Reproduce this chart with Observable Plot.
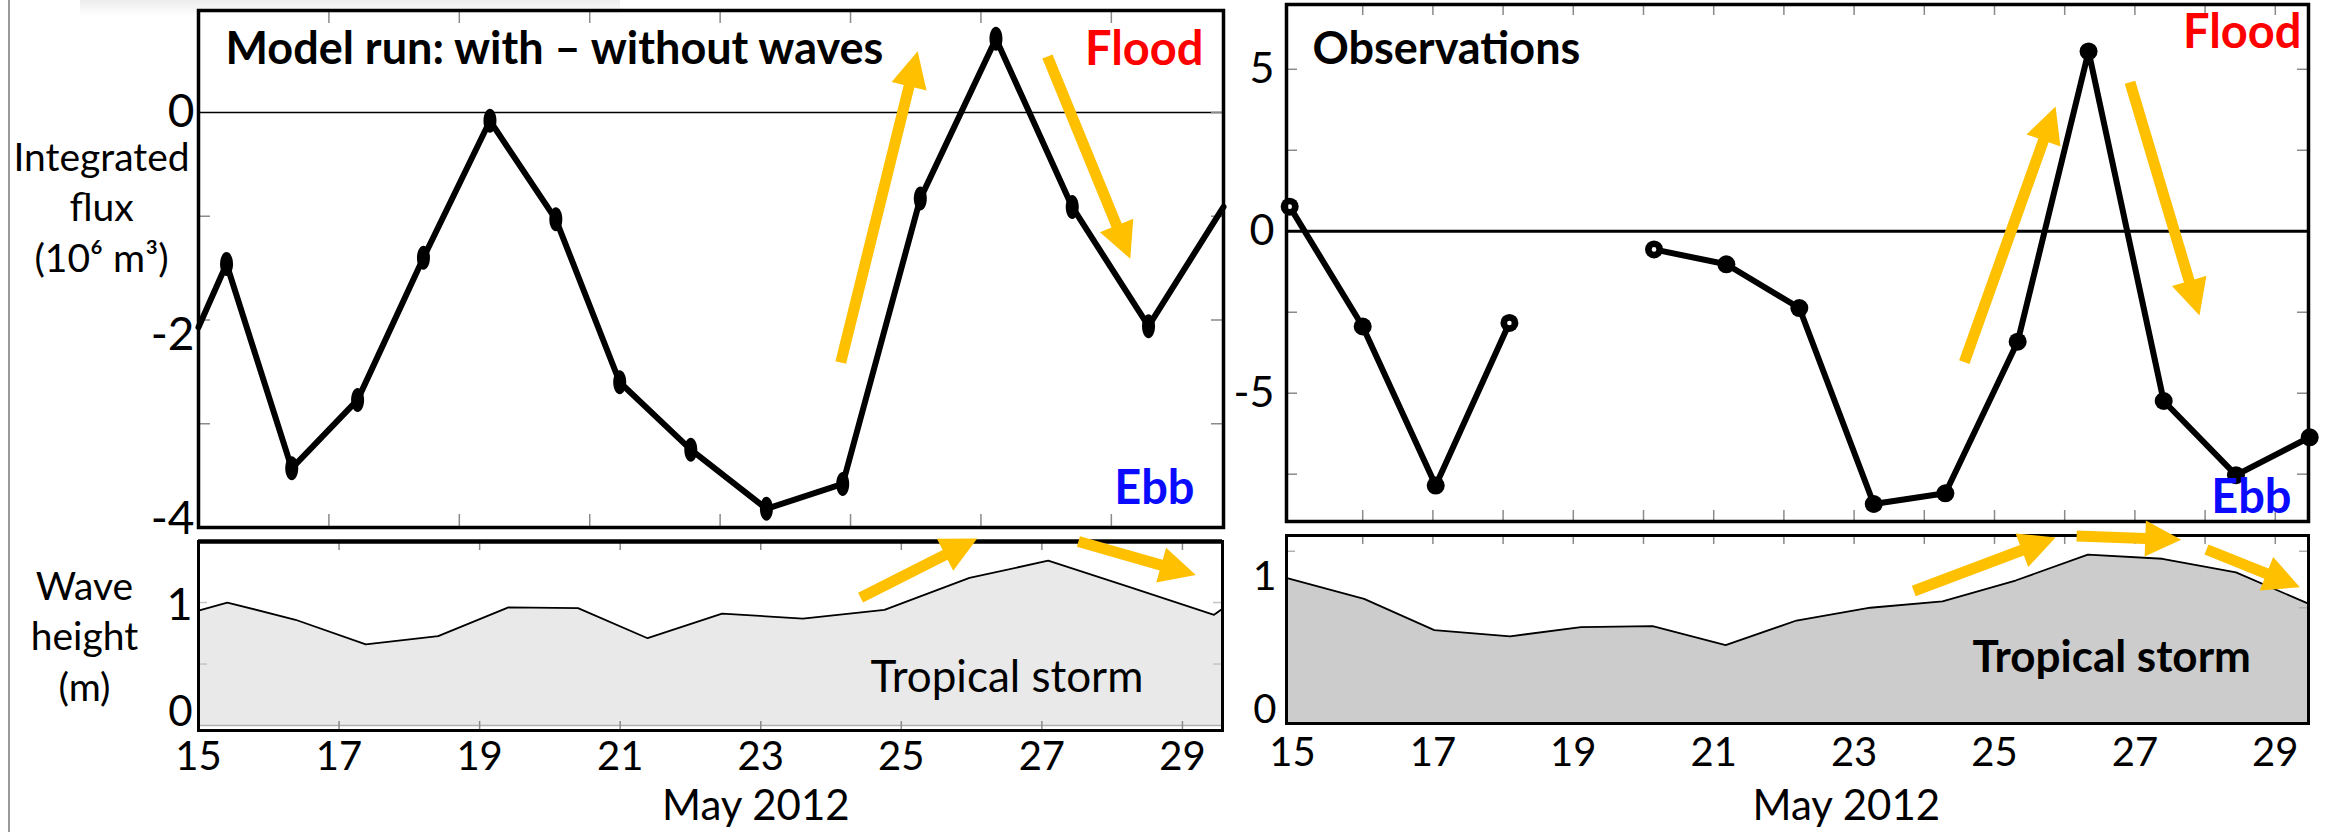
<!DOCTYPE html>
<html><head><meta charset="utf-8">
<script src="https://cdn.jsdelivr.net/npm/d3@7"></script>
<script src="https://cdn.jsdelivr.net/npm/@observablehq/plot@0.6"></script>
<style>
body{margin:0;background:#fff;}
#fig{position:relative;width:2328px;height:832px;overflow:hidden;font-family:Lato,sans-serif;background:#fff;}
#fig > svg{position:absolute;overflow:visible;}
#edge{position:absolute;left:8px;top:0;width:0;height:832px;border-left:2px solid #9a9a9a;}
#shade{position:absolute;left:80px;top:0;width:540px;height:16px;background:linear-gradient(#ececec,#fff);}
</style></head><body><div id="fig"><div id="shade"></div><div id="edge"></div></div>
<script>
// ---------- DATA ----------
// Model run (with - without waves): integrated flux, 10^6 m^3
const modelDays = [15.0, 15.43, 16.43, 17.44, 18.45, 19.47, 20.48, 21.46, 22.55, 23.71, 24.88, 26.07, 27.23, 28.40, 29.57, 30.72];
const modelFlux = [-2.07, -1.46, -3.43, -2.77, -1.40, -0.08, -1.03, -2.60, -3.25, -3.82, -3.58, -0.83, 0.71, -0.91, -2.06, -0.91];
// Model wave height (m)
const modelWaveDays = [15.0, 15.41, 16.38, 17.38, 18.41, 19.41, 20.40, 21.39, 22.45, 23.6, 24.76, 25.97, 27.09, 28.25, 29.45, 29.57];
const modelWave = [0.935, 1.0, 0.86, 0.66, 0.727, 0.96, 0.955, 0.71, 0.91, 0.87, 0.94, 1.20, 1.34, 1.125, 0.90, 0.95];
// Observations: integrated flux (null = no data)
const obsDays = [14.96, 16.00, 17.04, 18.09, 19.1, 20.15, 21.18, 22.22, 23.28, 24.30, 25.33, 26.34, 27.41, 28.44, 29.49];
const obsFlux = [0.76, -2.94, -7.85, -2.83, null, -0.56, -1.02, -2.37, -8.42, -8.09, -3.41, 5.55, -5.24, -7.53, -6.36];
const obsOpen = [true, false, false, true, false, true, false, false, false, false, false, false, false, false, false];
// Observed wave height (m)
const obsWaveDays = [14.91, 16.02, 17.02, 18.10, 19.11, 20.13, 21.17, 22.18, 23.23, 24.26, 25.30, 26.33, 27.39, 28.44, 29.47];
const obsWave = [1.02, 0.865, 0.635, 0.59, 0.657, 0.665, 0.525, 0.706, 0.80, 0.846, 1.0, 1.19, 1.16, 1.06, 0.83];
// tick labels
const dayLabels = [15, 17, 19, 21, 23, 25, 27, 29];
const modelFluxLabels = [0, -2, -4];
const obsFluxLabels = [5, 0, -5];
const waveLabels = [0, 1];
const modelTopTicks = [17, 19, 21, 23, 25, 27, 29];
const dailyTicks = [16, 17, 18, 19, 20, 21, 22, 23, 24, 25, 26, 27, 28, 29];
// annotation arrows [x1, y1, x2(tip), y2(tip)] in data units
const arrowsModelFlux = [[24.85, -2.41, 26.03, 0.59], [28.02, 0.54, 29.29, -1.41]];
const arrowsModelWave = [[24.42, 1.04, 26.08, 1.52], [27.52, 1.496, 29.19, 1.224]];
const arrowsObsFlux = [[24.57, -4.04, 25.87, 3.85], [26.93, 4.6, 27.92, -2.6]];
const arrowsObsWave = [[23.85, 0.923, 25.87, 1.316], [26.17, 1.327, 27.66, 1.30], [28.02, 1.228, 29.35, 0.951]];

// ---------- HELPERS ----------
const FONT = "Lato";
const YELLOW = "#FFC000";
const TICK = "#8a8a8a";
const ellipse = {draw(ctx) {
  const rx = 6.5, ry = 12, k = 0.5523;
  ctx.moveTo(0, -ry);
  ctx.bezierCurveTo(k*rx, -ry, rx, -k*ry, rx, 0);
  ctx.bezierCurveTo(rx, k*ry, k*rx, ry, 0, ry);
  ctx.bezierCurveTo(-k*rx, ry, -rx, k*ry, -rx, 0);
  ctx.bezierCurveTo(-rx, -k*ry, -k*rx, -ry, 0, -ry);
  ctx.closePath();
}};
function arrowPolys(arrows, xdom, xr, ydom, yr) {
  const xs = Plot.scale({x: {domain: xdom, range: xr}});
  const ys = Plot.scale({y: {domain: ydom, range: yr}});
  const out = [];
  const w = 11, W = 36, L = 36;
  arrows.forEach(([x1, y1, x2, y2], i) => {
    const sx = xs.apply(x1), sy = ys.apply(y1), tx = xs.apply(x2), ty = ys.apply(y2);
    const len = Math.hypot(tx - sx, ty - sy);
    const ux = (tx - sx) / len, uy = (ty - sy) / len;
    const nx = -uy, ny = ux;
    const bx = tx - L * ux, by = ty - L * uy;
    const pts = [
      [sx + nx*w/2, sy + ny*w/2], [bx + nx*w/2, by + ny*w/2], [bx + nx*W/2, by + ny*W/2],
      [tx, ty],
      [bx - nx*W/2, by - ny*W/2], [bx - nx*w/2, by - ny*w/2], [sx - nx*w/2, sy - ny*w/2]
    ];
    pts.forEach(([px, py]) => out.push({id: i, x: xs.invert(px), y: ys.invert(py)}));
  });
  return out;
}
function place(svg, left, top) {
  svg.style.left = left + "px";
  svg.style.top = top + "px";
  document.getElementById("fig").appendChild(svg);
}
const fmt = d => String(d);

// ---------- LEFT TOP: model flux ----------
{
  const W = 1240, H = 540, mL = 198, mR = 17, mT = 10, mB = 13;
  const xd = [15, 30.72], yd = [-4, 0.983];
  const fw = W - mL - mR, fh = H - mT - mB;
  const data = modelDays.map((d, i) => ({d, v: modelFlux[i]}));
  const inner = data.filter(p => p.d > xd[0] && p.d < xd[1]);
  const svg = Plot.plot({
    width: W, height: H, marginLeft: mL, marginRight: mR, marginTop: mT, marginBottom: mB,
    x: {domain: xd, axis: null}, y: {domain: yd},
    style: {fontFamily: FONT, background: "transparent", color: "black"},
    marks: [
      Plot.ruleY([0], {stroke: "black", strokeWidth: 1.6}),
      Plot.ruleX(modelTopTicks, {stroke: TICK, strokeWidth: 1.5, insetBottom: fh - 13}),
      Plot.ruleX(modelTopTicks, {stroke: TICK, strokeWidth: 1.5, insetTop: fh - 13}),
      Plot.ruleY([-1, -2, -3], {stroke: TICK, strokeWidth: 1.5, insetRight: fw - 12}),
      Plot.ruleY([0, -1, -2, -3], {stroke: TICK, strokeWidth: 1.5, insetLeft: fw - 12}),
      Plot.line(arrowPolys(arrowsModelFlux, xd, [mL, W - mR], yd, [H - mB, mT]), {x: "x", y: "y", z: "id", fill: YELLOW, stroke: "none"}),
      Plot.line(data, {x: "d", y: "v", stroke: "black", strokeWidth: 6}),
      Plot.dot(inner, {x: "d", y: "v", symbol: ellipse, fill: "black", stroke: "none", r: 6}),
      Plot.frame({stroke: "black", strokeWidth: 3.5}),
      Plot.axisY([modelFluxLabels[0]], {tickSize: 0, tickPadding: 4, fontSize: 46, tickFormat: fmt, label: null}),
      Plot.axisY([modelFluxLabels[1]], {tickSize: 0, tickPadding: 4, fontSize: 46, tickFormat: fmt, label: null, dy: 15}),
      Plot.axisY([modelFluxLabels[2]], {tickSize: 0, tickPadding: 4, fontSize: 46, tickFormat: fmt, label: null, dy: -8}),
      Plot.text(["Model run: with \u2013 without waves"], {frameAnchor: "top-left", dx: 27, dy: 22, lineAnchor: "top", textAnchor: "start", fontSize: 45, fontWeight: "bold"}),
      Plot.text(["Flood"], {frameAnchor: "top-right", dx: -20, dy: 21, lineAnchor: "top", textAnchor: "end", fontSize: 47, fontWeight: "bold", fill: "#ff0000"}),
      Plot.text(["Ebb"], {frameAnchor: "top-right", dx: -29, dy: 460, lineAnchor: "top", textAnchor: "end", fontSize: 47, fontWeight: "bold", fill: "#0a0aff"}),
      Plot.text(["Integrated\nflux\n(10\u2076 m\u00b3)"], {frameAnchor: "top-left", dx: -97, dy: 124, lineAnchor: "top", textAnchor: "middle", fontSize: 39, lineHeight: 1.3})
    ]
  });
  place(svg, 0, 0);
}

// ---------- LEFT BOTTOM: model wave height ----------
{
  const W = 1240, H = 302, mL = 198, mR = 18, mT = 11, mB = 102;
  const xd = [15, 29.57], yd = [-0.04, 1.496];
  const fw = W - mL - mR, fh = H - mT - mB;
  const data = modelWaveDays.map((d, i) => ({d, v: modelWave[i]}));
  const svg = Plot.plot({
    width: W, height: H, marginLeft: mL, marginRight: mR, marginTop: mT, marginBottom: mB,
    x: {domain: xd}, y: {domain: yd},
    style: {fontFamily: FONT, background: "transparent", color: "black"},
    marks: [
      Plot.areaY(data, {x: "d", y: "v", fill: "#e9e9e9"}),
      Plot.line(data, {x: "d", y: "v", stroke: "black", strokeWidth: 1.8}),
      Plot.ruleY([0], {stroke: "#b0b0b0", strokeWidth: 1.5}),
      Plot.ruleX(dayLabels.slice(1), {stroke: TICK, strokeWidth: 1.5, insetBottom: fh - 9}),
      Plot.ruleX(dayLabels.slice(1), {stroke: TICK, strokeWidth: 1.5, insetTop: fh - 9}),
      Plot.ruleY([0.5, 1], {stroke: "#c4c4c4", strokeWidth: 1.5, insetLeft: fw - 9}),
      Plot.ruleY([0.5, 1], {stroke: "#c4c4c4", strokeWidth: 1.5, insetRight: fw - 9}),
      Plot.frame({stroke: "black", strokeWidth: 3}),
      Plot.ruleY([yd[1]], {stroke: "black", strokeWidth: 4.5}),
      Plot.line(arrowPolys(arrowsModelWave, xd, [mL, W - mR], yd, [H - mB, mT]), {x: "x", y: "y", z: "id", fill: YELLOW, stroke: "none"}),
      Plot.axisY([waveLabels[1]], {tickSize: 0, tickPadding: 6, fontSize: 45, tickFormat: fmt, label: null, dy: 3}),
      Plot.axisY([waveLabels[0]], {tickSize: 0, tickPadding: 6, fontSize: 42, tickFormat: fmt, label: null, dy: -13}),
      Plot.axisX(dayLabels, {tickSize: 0, tickPadding: 11, fontSize: 40, tickFormat: fmt, label: null}),
      Plot.text(["May 2012"], {x: [22.93], frameAnchor: "bottom", dy: 60, lineAnchor: "top", fontSize: 42}),
      Plot.text(["Wave\nheight\n(m)"], {frameAnchor: "top-left", dx: -114, dy: 22, lineAnchor: "top", textAnchor: "middle", fontSize: 39, lineHeight: 1.3}),
      Plot.text(["Tropical storm"], {frameAnchor: "top-left", dx: 672, dy: 119, lineAnchor: "top", textAnchor: "start", fontSize: 44})
    ]
  });
  place(svg, 0, 530);
}

// ---------- RIGHT TOP: observed flux ----------
{
  const W = 1088, H = 540, mL = 46, mR = 20, mT = 4, mB = 19;
  const xd = [14.9145, 29.473], yd = [-8.96, 7.0];
  const fw = W - mL - mR, fh = H - mT - mB;
  const data = obsDays.map((d, i) => ({d, v: obsFlux[i], open: obsOpen[i]}));
  const pts = data.filter(p => p.v != null);
  const svg = Plot.plot({
    width: W, height: H, marginLeft: mL, marginRight: mR, marginTop: mT, marginBottom: mB,
    x: {domain: xd, axis: null}, y: {domain: yd},
    style: {fontFamily: FONT, background: "transparent", color: "black"},
    marks: [
      Plot.ruleX(dailyTicks, {stroke: TICK, strokeWidth: 1.5, insetBottom: fh - 11}),
      Plot.ruleX(dailyTicks, {stroke: TICK, strokeWidth: 1.5, insetTop: fh - 11}),
      Plot.ruleY([-7.5, -5, -2.5, 2.5, 5], {stroke: TICK, strokeWidth: 1.5, insetRight: fw - 11}),
      Plot.ruleY([-7.5, -5, -2.5, 2.5, 5], {stroke: TICK, strokeWidth: 1.5, insetLeft: fw - 11}),
      Plot.ruleY([0], {stroke: "black", strokeWidth: 3}),
      Plot.line(arrowPolys(arrowsObsFlux, xd, [mL, W - mR], yd, [H - mB, mT]), {x: "x", y: "y", z: "id", fill: YELLOW, stroke: "none"}),
      Plot.line(data, {x: "d", y: "v", stroke: "black", strokeWidth: 6}),
      Plot.dot(pts, {x: "d", y: "v", r: 9, fill: "black", stroke: "none"}),
      Plot.dot(pts.filter(p => p.open), {x: "d", y: "v", r: 2.3, fill: "white", stroke: "none"}),
      Plot.frame({stroke: "black", strokeWidth: 3.5}),
      Plot.axisY(obsFluxLabels, {tickSize: 0, tickPadding: 12, fontSize: 43, tickFormat: fmt, label: null}),
      Plot.text(["Observations"], {frameAnchor: "top-left", dx: 26, dy: 28, lineAnchor: "top", textAnchor: "start", fontSize: 45, fontWeight: "bold"}),
      Plot.text(["Flood"], {frameAnchor: "top-right", dx: -7, dy: 10, lineAnchor: "top", textAnchor: "end", fontSize: 47, fontWeight: "bold", fill: "#ff0000"}),
      Plot.text(["Ebb"], {frameAnchor: "top-right", dx: -17, dy: 475, lineAnchor: "top", textAnchor: "end", fontSize: 47, fontWeight: "bold", fill: "#0a0aff"})
    ]
  });
  place(svg, 1240, 0);
}

// ---------- RIGHT BOTTOM: observed wave height ----------
{
  const W = 1088, H = 302, mL = 46, mR = 20, mT = 5, mB = 109;
  const xd = [14.9145, 29.473], yd = [-0.051, 1.331];
  const fw = W - mL - mR, fh = H - mT - mB;
  const data = obsWaveDays.map((d, i) => ({d, v: obsWave[i]}));
  const svg = Plot.plot({
    width: W, height: H, marginLeft: mL, marginRight: mR, marginTop: mT, marginBottom: mB,
    x: {domain: xd}, y: {domain: yd},
    style: {fontFamily: FONT, background: "transparent", color: "black"},
    marks: [
      Plot.areaY(data, {x: "d", y: "v", y1: yd[0], fill: "#cccccc"}),
      Plot.line(data, {x: "d", y: "v", stroke: "black", strokeWidth: 1.8}),
      Plot.ruleX(dailyTicks, {stroke: TICK, strokeWidth: 1.5, insetBottom: fh - 9}),
      Plot.ruleY([0.8, 1.215], {stroke: "#b0b0b0", strokeWidth: 1.5, insetLeft: fw - 9}),
      Plot.ruleY([1.215], {stroke: "#b0b0b0", strokeWidth: 1.5, insetRight: fw - 9}),
      Plot.frame({stroke: "black", strokeWidth: 3}),
      Plot.line(arrowPolys(arrowsObsWave, xd, [mL, W - mR], yd, [H - mB, mT]), {x: "x", y: "y", z: "id", fill: YELLOW, stroke: "none"}),
      Plot.axisY([waveLabels[1]], {tickSize: 0, tickPadding: 10, fontSize: 41, tickFormat: fmt, label: null, dy: -4}),
      Plot.axisY([waveLabels[0]], {tickSize: 0, tickPadding: 10, fontSize: 40, tickFormat: fmt, label: null, dy: -6}),
      Plot.axisX(dayLabels, {tickSize: 0, tickPadding: 14, fontSize: 40, tickFormat: fmt, label: null}),
      Plot.text(["May 2012"], {x: [22.89], frameAnchor: "bottom", dy: 67, lineAnchor: "top", fontSize: 42}),
      Plot.text(["Tropical storm"], {frameAnchor: "top-left", dx: 686, dy: 105, lineAnchor: "top", textAnchor: "start", fontSize: 44, fontWeight: "bold"})
    ]
  });
  place(svg, 1240, 530);
}
</script></body></html>
